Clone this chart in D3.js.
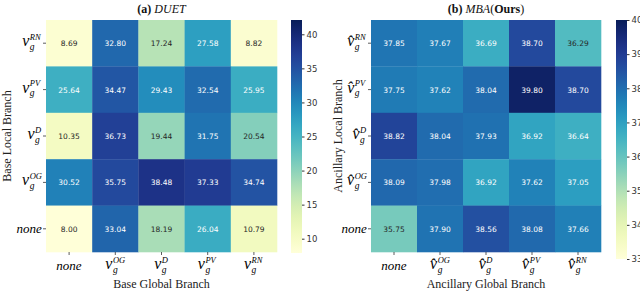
<!DOCTYPE html>
<html>
<head>
<meta charset="utf-8">
<script src="https://cdn.jsdelivr.net/npm/d3@7"></script>
<style>
  body { margin: 0; background: #fff; }
  svg { display: block; }
</style>
</head>
<body>
<div id="chart"></div>
<script>
// row / column keys (label drawn as v + stacked sup/sub)
const duetRows = ["RN", "PV", "D", "OG", "none"];
const duetCols = ["none", "OG", "D", "PV", "RN"];
const duetValues = [
  [8.69, 32.80, 17.24, 27.58, 8.82],
  [25.64, 34.47, 29.43, 32.54, 25.95],
  [10.35, 36.73, 19.44, 31.75, 20.54],
  [30.52, 35.75, 38.48, 37.33, 34.74],
  [8.00, 33.04, 18.19, 26.04, 10.79]
];
const duetTicks = [10, 15, 20, 25, 30, 35, 40];

const mbaRows = ["RN", "PV", "D", "OG", "none"];
const mbaCols = ["none", "OG", "D", "PV", "RN"];
const mbaValues = [
  [37.85, 37.67, 36.69, 38.70, 36.29],
  [37.75, 37.62, 38.04, 39.80, 38.70],
  [38.82, 38.04, 37.93, 36.92, 36.64],
  [38.09, 37.98, 36.92, 37.62, 37.05],
  [35.75, 37.90, 38.56, 38.08, 37.66]
];
const mbaTicks = [33, 34, 35, 36, 37, 38, 39, 40];

var width = 640, height = 294;
var serif = "'Liberation Serif', 'DejaVu Serif', serif";
var sans = "'DejaVu Sans', sans-serif";

var svg = d3.select("#chart").append("svg")
  .attr("width", width)
  .attr("height", height);

function lum(c) {
  var rgb = d3.rgb(c);
  var f = function(v) { v = v / 255; return v <= 0.03928 ? v / 12.92 : Math.pow((v + 0.055) / 1.055, 2.4); };
  return 0.2126 * f(rgb.r) + 0.7152 * f(rgb.g) + 0.0722 * f(rgb.b);
}

// math-ish label: v (or v-hat) with stacked superscript and subscript g
function mathLabel(g, key, hat, align) {
  var grp = g.append("g");
  if (key == "none") {
    grp.append("text").text("none")
      .attr("font-family", serif).attr("font-style", "italic")
      .attr("font-size", 13).attr("y", 4);
  } else {
    var v = grp.append("text").text(hat ? "v\u0302" : "v")
      .attr("font-family", serif).attr("font-style", "italic")
      .attr("font-size", 16).attr("y", 3);
    var vw = v.node().getComputedTextLength() + 0.5;
    grp.append("text").text(key)
      .attr("font-family", serif).attr("font-style", "italic")
      .attr("font-size", 8.5).attr("x", vw).attr("y", -3.5);
    grp.append("text").text("g")
      .attr("font-family", serif).attr("font-style", "italic")
      .attr("font-size", 9.5).attr("x", vw).attr("y", 6.5);
  }
  var bb = grp.node().getBBox();
  var dx = align == "end" ? -(bb.x + bb.width) : -(bb.x + bb.width / 2);
  grp.attr("transform", "translate(" + dx + ",0)");
  return grp;
}

function heatmap(opt) {
  var x = d3.scaleBand().domain(d3.range(opt.cols.length)).range([opt.left, opt.right]);
  var y = d3.scaleBand().domain(d3.range(opt.rows.length)).range([opt.top, opt.bottom]);
  var color = d3.scaleSequential(d3.interpolateYlGnBu).domain(opt.domain);

  var cells = [];
  opt.values.forEach(function(row, i) {
    row.forEach(function(v, j) { cells.push({ r: i, c: j, v: v }); });
  });

  var g = svg.append("g");
  g.selectAll("rect.cell").data(cells).enter().append("rect")
    .attr("class", "cell")
    .attr("x", function(d) { return x(d.c); })
    .attr("y", function(d) { return y(d.r); })
    .attr("width", x.bandwidth() + 0.3)
    .attr("height", y.bandwidth() + 0.3)
    .attr("fill", function(d) { return color(d.v); });

  g.selectAll("text.val").data(cells).enter().append("text")
    .attr("class", "val")
    .attr("x", function(d) { return x(d.c) + x.bandwidth() / 2; })
    .attr("y", function(d) { return y(d.r) + y.bandwidth() / 2 + 3; })
    .attr("text-anchor", "middle")
    .attr("font-family", sans)
    .attr("font-size", 7.5)
    .attr("fill", function(d) { return lum(color(d.v)) > 0.36 ? "#262626" : "#fff"; })
    .text(function(d) { return d.v.toFixed(2); });

  // x tick labels
  opt.cols.forEach(function(k, j) {
    var cx = x(j) + x.bandwidth() / 2;
    g.append("line").attr("x1", cx).attr("x2", cx)
      .attr("y1", opt.bottom).attr("y2", opt.bottom + 3)
      .attr("stroke", "#333").attr("stroke-width", 0.8);
    var t = g.append("g").attr("transform", "translate(" + cx + "," + (opt.bottom + 14) + ")");
    mathLabel(t, k, opt.hat, "middle");
  });
  // y tick labels
  opt.rows.forEach(function(k, i) {
    var cy = y(i) + y.bandwidth() / 2;
    g.append("line").attr("x1", opt.left - 3).attr("x2", opt.left)
      .attr("y1", cy).attr("y2", cy)
      .attr("stroke", "#333").attr("stroke-width", 0.8);
    var t = g.append("g").attr("transform", "translate(" + (opt.left - 4) + "," + cy + ")");
    mathLabel(t, k, opt.hat, "end");
  });

  // axis titles
  g.append("text")
    .attr("x", (opt.left + opt.right) / 2).attr("y", 288)
    .attr("text-anchor", "middle")
    .attr("font-family", serif).attr("font-size", 12)
    .attr("fill", "#222")
    .text(opt.xTitle);
  g.append("text")
    .attr("transform", "translate(" + opt.yTitleX + "," + ((opt.top + opt.bottom) / 2) + ") rotate(-90)")
    .attr("text-anchor", "middle")
    .attr("font-family", serif).attr("font-size", 12)
    .attr("fill", "#222")
    .text(opt.yTitle);

  // title
  var title = g.append("text")
    .attr("x", (opt.left + opt.right) / 2).attr("y", 13)
    .attr("text-anchor", "middle")
    .attr("font-family", serif).attr("font-size", 12)
    .attr("fill", "#111");
  opt.title.forEach(function(p) {
    title.append("tspan").text(p[0])
      .attr("font-weight", p[1] == "b" ? "bold" : null)
      .attr("font-style", p[1] == "i" ? "italic" : null);
  });

  // colorbar
  var cb = d3.scaleLinear().domain(opt.domain).range([opt.cbBottom, opt.top]);
  var id = "grad" + opt.id;
  var grad = svg.append("defs").append("linearGradient")
    .attr("id", id).attr("x1", 0).attr("y1", 1).attr("x2", 0).attr("y2", 0);
  d3.range(0, 1.001, 0.05).forEach(function(t) {
    grad.append("stop").attr("offset", t)
      .attr("stop-color", d3.interpolateYlGnBu(t));
  });
  g.append("rect")
    .attr("x", opt.cbX).attr("y", opt.top)
    .attr("width", 11).attr("height", opt.cbBottom - opt.top)
    .attr("fill", "url(#" + id + ")");
  var axis = g.append("g")
    .attr("transform", "translate(" + (opt.cbX + 11) + ",0)")
    .call(d3.axisRight(cb).tickValues(opt.ticks).tickSize(2.5).tickPadding(2));
  axis.select(".domain").remove();
  axis.selectAll("line").attr("stroke", "#333");
  axis.selectAll("text").attr("font-family", sans).attr("font-size", 8.5).attr("fill", "#333");
}

heatmap({
  id: "a", rows: duetRows, cols: duetCols, values: duetValues, hat: false,
  left: 46, right: 277, top: 20, bottom: 252,
  domain: [7.9, 42.1], ticks: duetTicks, cbX: 291, cbBottom: 253,
  xTitle: "Base Global Branch", yTitle: "Base Local Branch", yTitleX: 11,
  title: [["(a)", "b"], [" "], ["DUET", "i"]]
});

heatmap({
  id: "b", rows: mbaRows, cols: mbaCols, values: mbaValues, hat: true,
  left: 371, right: 601, top: 20, bottom: 252,
  domain: [33, 40], ticks: mbaTicks, cbX: 616, cbBottom: 259,
  xTitle: "Ancillary Global Branch", yTitle: "Ancillary Local Branch", yTitleX: 342,
  title: [["(b)", "b"], [" "], ["MBA", "i"], ["("], ["Ours", "b"], [")"]]
});
</script>
</body>
</html>
